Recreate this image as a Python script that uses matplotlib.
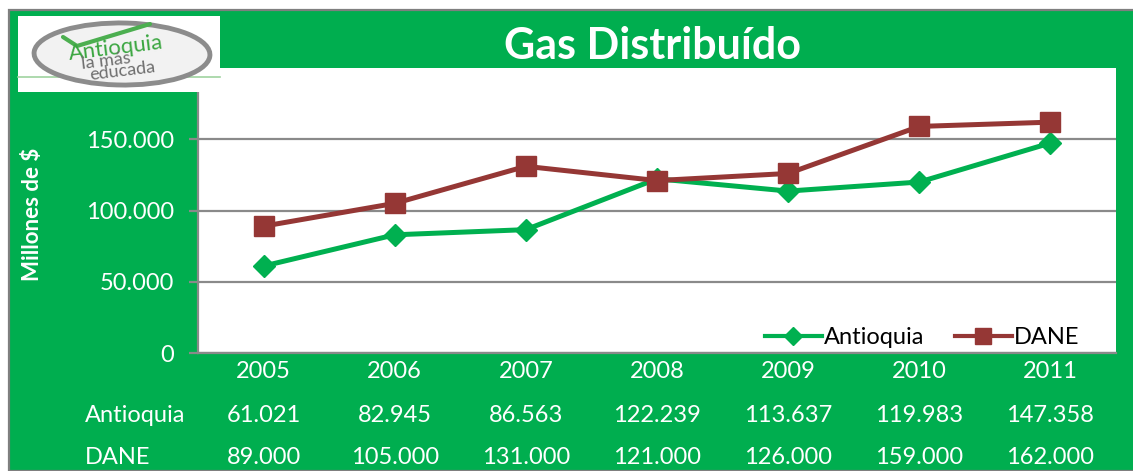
import matplotlib

matplotlib.use("Agg")
import matplotlib.pyplot as plt
from matplotlib.patches import Rectangle, Ellipse
from matplotlib.lines import Line2D

years = ["2005", "2006", "2007", "2008", "2009", "2010", "2011"]
antioquia = [61021, 82945, 86563, 122239, 113637, 119983, 147358]
dane = [89000, 105000, 131000, 121000, 126000, 159000, 162000]
yticks = [0, 50000, 100000, 150000]

GREEN_BG = "#00AE4F"
GREEN = "#00B050"
RED = "#953735"
GREY = "#8A8A8A"
FS = 17
plt.rcParams["font.family"] = ["Lato", "DejaVu Sans"]


def miles(v):
    return f"{v:,}".replace(",", ".")


W, H = 1133, 471
fig = plt.figure(figsize=(W / 100, H / 100), dpi=100)
fig.patch.set_facecolor("white")

# green panel with grey border
fig.add_artist(Rectangle((9 / W, 0), 1, 1 - 10 / H, transform=fig.transFigure,
                         facecolor=GREEN_BG, edgecolor="#7f7f7f", linewidth=1.6,
                         zorder=0))

ax = fig.add_axes([198 / W, 1 - 353 / H, 918 / W, 285 / H])
ax.set_facecolor("white")
x = list(range(len(years)))
ax.plot(x, antioquia, color=GREEN, linewidth=3.6, marker="D", markersize=11,
        label="Antioquia", zorder=3)
ax.plot(x, dane, color=RED, linewidth=3.6, marker="s", markersize=14,
        label="DANE", zorder=4)

ax.set_xlim(-0.5, len(years) - 0.5)
ax.set_ylim(0, 200000)
ax.set_yticks(yticks)
ax.set_yticklabels([miles(v) for v in yticks])
ax.yaxis.grid(True, color=GREY, linewidth=1.6)
ax.set_axisbelow(True)
ax.tick_params(axis="y", colors=GREY, labelcolor="white", labelsize=FS,
               length=6.5, width=1.6, pad=11)
ax.set_xticks(x)
ax.set_xticklabels(years)
ax.tick_params(axis="x", length=0, labelcolor="white", labelsize=FS, pad=6)
for s in ["top", "right"]:
    ax.spines[s].set_visible(False)
for s in ["left", "bottom"]:
    ax.spines[s].set_color(GREY)
    ax.spines[s].set_linewidth(1.6)

# data table below the axis
tr = ax.get_xaxis_transform()
row_y = [-(415 - 353) / 285, -(457 - 353) / 285]
for ry, name, vals in zip(row_y, ["Antioquia", "DANE"], [antioquia, dane]):
    ax.text(-0.5 + (85 - 198) / 131, ry, name, transform=tr, ha="left",
            va="center", color="white", fontsize=FS, clip_on=False)
    for xi, v in zip(x, vals):
        ax.text(xi, ry, miles(v), transform=tr, ha="center", va="center",
                color="white", fontsize=FS, clip_on=False)

ax.set_ylabel("Millones de $", color="white", fontsize=16, fontweight="bold",
              labelpad=0)
ax.yaxis.set_label_coords(-(198 - 43) / 918, (353 - 214) / 285)

handles = [Line2D([], [], color=GREEN, linewidth=3, marker="D", markersize=9),
           Line2D([], [], color=RED, linewidth=3, marker="s", markersize=12)]
ax.legend(handles, ["Antioquia", "DANE"], loc="center right", ncol=2,
          bbox_to_anchor=(1 - 20 / 918, (353 - 338) / 285), frameon=False,
          fontsize=FS, handlelength=2.4, handletextpad=0.1, columnspacing=1.3,
          borderaxespad=0.3)

# title
fig.text(652 / W, 1 - 46 / H, "Gas Distribuído", ha="center", va="center",
         color="white", fontsize=31, fontweight="bold")

# logo
fig.add_artist(Rectangle((18 / W, 1 - 92 / H), 202 / W, 76 / H,
                         transform=fig.transFigure, facecolor="white",
                         edgecolor="none", zorder=5))
fig.add_artist(Line2D([18 / W, 220 / W], [1 - 77 / H, 1 - 77 / H],
                      transform=fig.transFigure, color="#9fd39f",
                      linewidth=1.2, zorder=6))
fig.add_artist(Ellipse((122 / W, 1 - 54 / H), 176 / W, 62 / H, angle=-4,
                       transform=fig.transFigure, facecolor="#f2f2f2",
                       edgecolor="#8c8c8c", linewidth=3.5, zorder=6))
fig.add_artist(Line2D([63 / W, 77 / W, 150 / W], [1 - 37 / H, 1 - 46 / H, 1 - 24 / H],
                      transform=fig.transFigure, color="#4caf50",
                      linewidth=3, zorder=7, solid_capstyle="round"))
fig.text(116 / W, 1 - 48 / H, "Antioquia", ha="center", va="center",
         color="#3aa640", fontsize=16, rotation=7, zorder=8)
fig.text(106 / W, 1 - 61 / H, "la más", ha="center", va="center",
         color="#6f6f6f", fontsize=13, rotation=7, zorder=8)
fig.text(122 / W, 1 - 71 / H, "educada", ha="center", va="center",
         color="#6f6f6f", fontsize=13, rotation=7, zorder=8)

fig.savefig("out.png", dpi=100)
